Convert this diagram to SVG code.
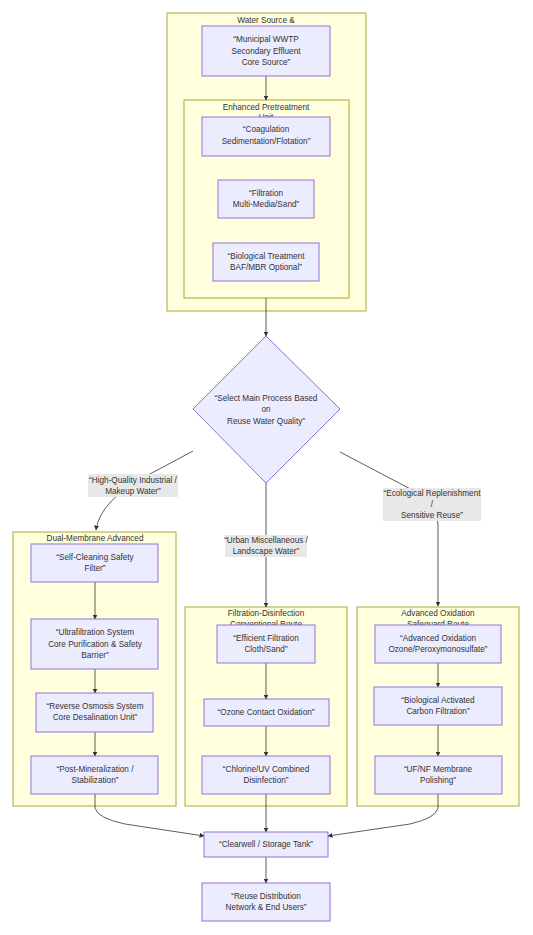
<svg xmlns="http://www.w3.org/2000/svg" width="533" height="935" viewBox="0 0 533 935">
<style>
text{font-family:"Liberation Sans",Arial,sans-serif;font-size:8.2px;fill:#333;text-anchor:middle}
.cl{fill:#ffffde;stroke:#aaaa33;stroke-width:1}
.nd{fill:#ececff;stroke:#9370db;stroke-width:1}
.lb{fill:#e8e8e8;stroke:none}
.ed{fill:none;stroke:#333;stroke-width:0.8;marker-end:url(#ah)}
</style>
<defs>
<marker id="ah" viewBox="0 0 10 10" refX="9" refY="5" markerWidth="5" markerHeight="5" orient="auto" markerUnits="userSpaceOnUse"><path d="M0,0L10,5L0,10z" fill="#333"/></marker>
</defs>
<rect width="533" height="935" fill="#fff"/>
<g id="clusters">
<g id="cl-source"><rect class="cl" x="167" y="13" width="199" height="298"/><text x="266" y="23">Water Source &amp;</text></g>
<g id="cl-pre"><rect class="cl" x="184" y="100" width="165" height="198"/><text x="266" y="110">Enhanced Pretreatment</text><text x="266" y="120">Unit</text></g>
<g id="cl-dual"><rect class="cl" x="13" y="532" width="163" height="274"/><text x="95" y="541">Dual-Membrane Advanced</text></g>
<g id="cl-conv"><rect class="cl" x="185" y="607" width="162" height="199"/><text x="266" y="616">Filtration-Disinfection</text><text x="266" y="627">Conventional Route</text></g>
<g id="cl-aop"><rect class="cl" x="357" y="607" width="162" height="199"/><text x="438" y="616">Advanced Oxidation</text><text x="438" y="627">Safeguard Route</text></g>
</g>
<g id="connectors">
<path class="ed" d="M266,76L266,100"/>
<path class="ed" d="M266,298L266,336"/>
<path class="ed" d="M193,451L150,474Q100,500 96,530"/>
<path class="ed" d="M266,483L266,607"/>
<path class="ed" d="M340,452L420,494Q438,505 438,525L438,606"/>
<path class="ed" d="M95,582L95,619"/>
<path class="ed" d="M95,669L95,693"/>
<path class="ed" d="M95,732L95,756"/>
<path class="ed" d="M266,663L266,699"/>
<path class="ed" d="M266,726L266,756"/>
<path class="ed" d="M438,663L438,687"/>
<path class="ed" d="M438,725L438,756"/>
<path class="ed" d="M95,794L95,808Q97,818 125,824L204,836"/>
<path class="ed" d="M438,794L438,808Q436,818 410,824L328,836"/>
<path class="ed" d="M266,794L266,832"/>
<path class="ed" d="M266,857L266,883"/>
</g>
<g id="edge-labels">
<g id="lbl-hq"><rect class="lb" x="88" y="474" width="90" height="23"/><text x="133" y="483">“High-Quality Industrial /</text><text x="133" y="494">Makeup Water”</text></g>
<g id="lbl-urban"><rect class="lb" x="225" y="535" width="82" height="22"/><text x="266" y="543">“Urban Miscellaneous /</text><text x="266" y="554">Landscape Water”</text></g>
<g id="lbl-eco"><rect class="lb" x="383" y="488" width="98" height="33"/><text x="432" y="496">“Ecological Replenishment</text><text x="432" y="507">/</text><text x="432" y="518">Sensitive Reuse”</text></g>
</g>
<g id="n-municipal"><rect class="nd" x="202" y="26" width="128" height="50"/><text x="266" y="42">“Municipal WWTP</text><text x="266" y="54">Secondary Effluent</text><text x="266" y="65">Core Source”</text></g>
<g id="n-coag"><rect class="nd" x="202" y="117" width="128" height="39"/><text x="266" y="132">“Coagulation</text><text x="266" y="144">Sedimentation/Flotation”</text></g>
<g id="n-filt"><rect class="nd" x="218" y="180" width="96" height="38"/><text x="266" y="196">“Filtration</text><text x="266" y="207">Multi-Media/Sand”</text></g>
<g id="n-bio"><rect class="nd" x="213" y="243" width="106" height="38"/><text x="266" y="259">“Biological Treatment</text><text x="266" y="270">BAF/MBR Optional”</text></g>
<g id="n-select"><polygon class="nd" points="266,336 340,409 266,483 193,409"/><text x="266" y="401">“Select Main Process Based</text><text x="266" y="412">on</text><text x="266" y="424">Reuse Water Quality”</text></g>
<g id="n-selfclean"><rect class="nd" x="31" y="544" width="127" height="38"/><text x="95" y="560">“Self-Cleaning Safety</text><text x="95" y="571">Filter”</text></g>
<g id="n-uf"><rect class="nd" x="31" y="619" width="127" height="50"/><text x="95" y="635">“Ultrafiltration System</text><text x="95" y="647">Core Purification &amp; Safety</text><text x="95" y="658">Barrier”</text></g>
<g id="n-ro"><rect class="nd" x="36" y="693" width="117" height="39"/><text x="95" y="709">“Reverse Osmosis System</text><text x="95" y="720">Core Desalination Unit”</text></g>
<g id="n-postmin"><rect class="nd" x="31" y="756" width="127" height="38"/><text x="95" y="772">“Post-Mineralization /</text><text x="95" y="783">Stabilization”</text></g>
<g id="n-effilt"><rect class="nd" x="217" y="625" width="98" height="38"/><text x="266" y="641">“Efficient Filtration</text><text x="266" y="652">Cloth/Sand”</text></g>
<g id="n-ozone"><rect class="nd" x="204" y="699" width="125" height="27"/><text x="266" y="715">“Ozone Contact Oxidation”</text></g>
<g id="n-chlor"><rect class="nd" x="202" y="756" width="128" height="38"/><text x="266" y="772">“Chlorine/UV Combined</text><text x="266" y="783">Disinfection”</text></g>
<g id="n-aop"><rect class="nd" x="375" y="625" width="126" height="38"/><text x="438" y="641">“Advanced Oxidation</text><text x="438" y="652">Ozone/Peroxymonosulfate”</text></g>
<g id="n-bac"><rect class="nd" x="374" y="687" width="128" height="38"/><text x="438" y="703">“Biological Activated</text><text x="438" y="714">Carbon Filtration”</text></g>
<g id="n-ufnf"><rect class="nd" x="375" y="756" width="127" height="38"/><text x="438" y="772">“UF/NF Membrane</text><text x="438" y="783">Polishing”</text></g>
<g id="n-clearwell"><rect class="nd" x="204" y="832" width="124" height="25"/><text x="266" y="847">“Clearwell / Storage Tank”</text></g>
<g id="n-reuse"><rect class="nd" x="202" y="883" width="128" height="38"/><text x="266" y="899">“Reuse Distribution</text><text x="266" y="910">Network &amp; End Users”</text></g>
</svg>
